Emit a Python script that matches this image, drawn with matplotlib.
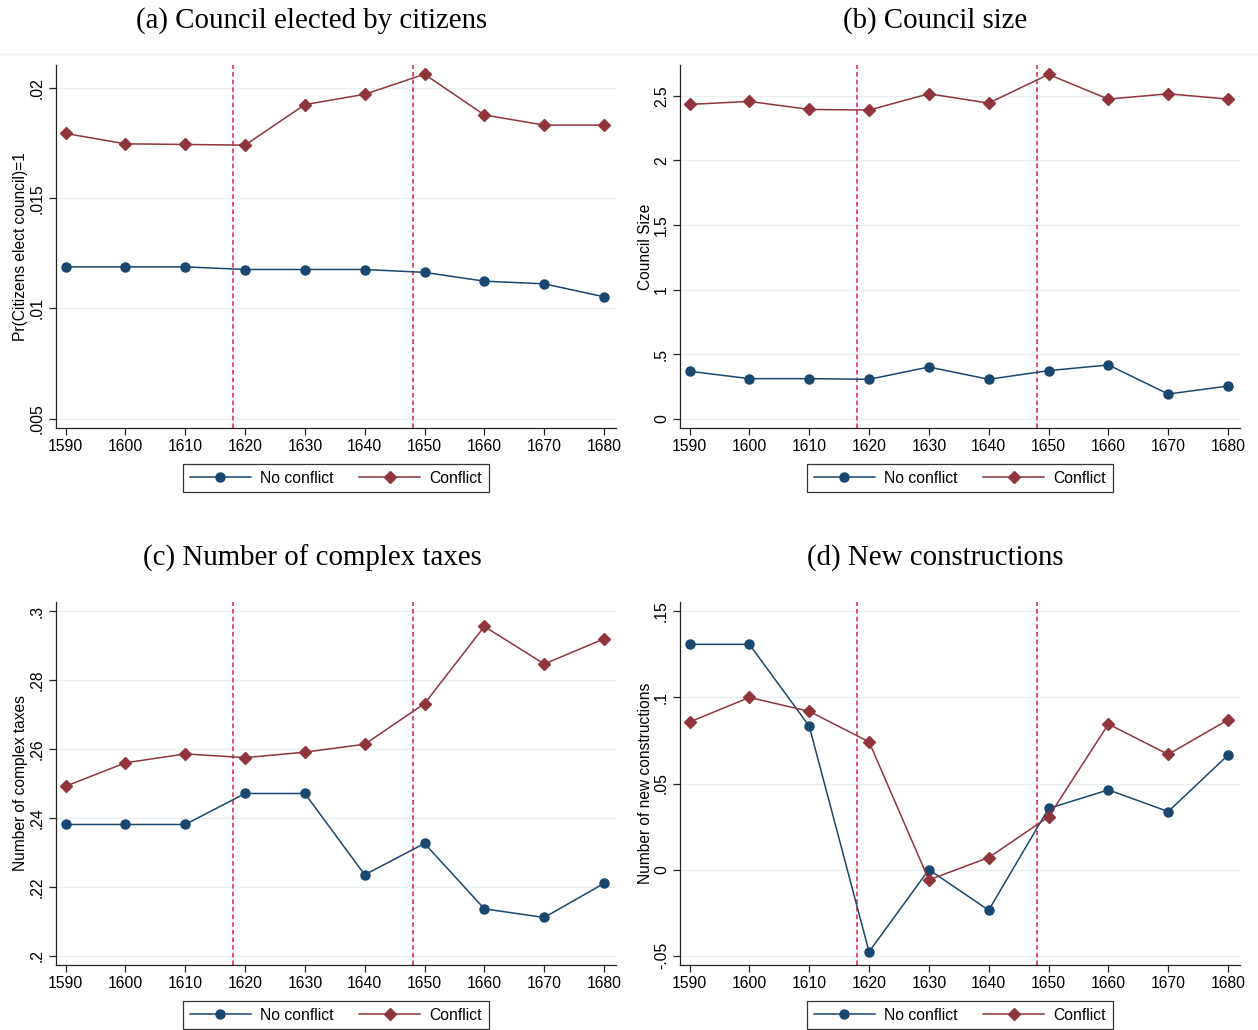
import numpy as np
import matplotlib.pyplot as plt
from matplotlib.lines import Line2D

years = [1590, 1600, 1610, 1620, 1630, 1640, 1650, 1660, 1670, 1680]
breaks = [1618, 1648]

# (a) council elected by citizens
elect_noconf = [0.01189, 0.01189, 0.01189, 0.01177, 0.01177, 0.01177, 0.01164, 0.01124, 0.01112, 0.01053]
elect_conf = [0.01795, 0.01748, 0.01745, 0.01742, 0.01926, 0.01973, 0.02064, 0.01879, 0.01833, 0.01833]
# (b) council size
size_noconf = [0.367, 0.310, 0.310, 0.305, 0.400, 0.305, 0.372, 0.416, 0.191, 0.253]
size_conf = [2.433, 2.456, 2.394, 2.389, 2.515, 2.443, 2.665, 2.474, 2.515, 2.474]
# (c) complex taxes
tax_noconf = [0.2381, 0.2381, 0.2381, 0.2471, 0.2471, 0.2235, 0.2326, 0.2136, 0.2111, 0.2210]
tax_conf = [0.2492, 0.2560, 0.2586, 0.2575, 0.2591, 0.2614, 0.2732, 0.2956, 0.2847, 0.2920]
# (d) new constructions
cons_noconf = [0.1308, 0.1308, 0.0833, -0.0477, 0.0, -0.0236, 0.0355, 0.0463, 0.0337, 0.0665]
cons_conf = [0.0857, 0.1000, 0.0919, 0.0742, -0.0060, 0.0070, 0.0306, 0.0845, 0.0669, 0.0870]

titles = ['(a) Council elected by citizens', '(b) Council size',
          '(c) Number of complex taxes', '(d) New constructions']
ylabels = ['Pr(Citizens elect council)=1', 'Council Size',
           'Number of complex taxes', 'Number of new constructions']
yticks = [[0.005, 0.01, 0.015, 0.02],
          [0, 0.5, 1, 1.5, 2, 2.5],
          [0.2, 0.22, 0.24, 0.26, 0.28, 0.3],
          [-0.05, 0, 0.05, 0.1, 0.15]]
yticklabels = [['.005', '.01', '.015', '.02'],
               ['0', '.5', '1', '1.5', '2', '2.5'],
               ['.2', '.22', '.24', '.26', '.28', '.3'],
               ['-.05', '0', '.05', '.1', '.15']]
ylims = [(0.00457, 0.02106), (-0.072, 2.738), (0.1973, 0.3027), (-0.0554, 0.1554)]
series = [(elect_noconf, elect_conf), (size_noconf, size_conf),
          (tax_noconf, tax_conf), (cons_noconf, cons_conf)]

navy = '#1a476f'
maroon = '#90353b'
vred = '#e0203c'

plt.rcParams['font.family'] = ['Liberation Sans', 'DejaVu Sans']

W, H = 1258, 1030
fig = plt.figure(figsize=(W / 100, H / 100), dpi=100)

# axes boxes in pixels: left, top, right, bottom
boxes = [(56, 65, 616, 428), (680, 65, 1240, 428),
         (56, 602, 616, 965), (680, 602, 1240, 965)]
# title centres in pixels
title_pos = [(312, 21), (935, 21), (312, 558), (935, 558)]

for i in range(4):
    l, t, r, b = boxes[i]
    ax = fig.add_axes([l / W, 1 - b / H, (r - l) / W, (b - t) / H])
    noconf, conf = series[i]
    ax.plot(years, noconf, color=navy, lw=1.1, marker='o', ms=6.5, label='No conflict', zorder=3)
    ax.plot(years, conf, color=maroon, lw=1.1, marker='D', ms=6, label='Conflict', zorder=3)
    for x in breaks:
        ax.axvline(x, color=vred, lw=1.1, ls=(0, (3, 2)), zorder=2)
    ax.set_xlim(1588.4, 1682)
    ax.set_ylim(*ylims[i])
    ax.set_xticks(years)
    ax.set_xticklabels([str(y) for y in years], fontsize=11.3)
    ax.set_yticks(yticks[i])
    ax.set_yticklabels(yticklabels[i], fontsize=11.3, rotation=90, va='center')
    ax.grid(axis='y', color='#e8eff0', lw=1.0, zorder=0)
    ax.spines['top'].set_visible(False)
    ax.spines['right'].set_visible(False)
    for s in ['left', 'bottom']:
        ax.spines[s].set_color('#222222')
        ax.spines[s].set_linewidth(0.9)
    ax.tick_params(length=5, width=0.9, color='#222222', pad=3)
    ax.set_ylabel(ylabels[i], fontsize=11.2, labelpad=1)
    tx, ty = title_pos[i]
    fig.text(tx / W, 1 - ty / H, titles[i], fontsize=20.8, family='Liberation Serif',
             ha='center', va='center')
    leg = ax.legend(loc='center', bbox_to_anchor=(0.5, -0.138), ncol=2, fontsize=11.3,
                    frameon=True, fancybox=False, edgecolor='black', handlelength=3.9,
                    columnspacing=1.6, borderpad=0.42, handletextpad=0.6)
    leg.get_frame().set_linewidth(0.9)

# faint rule below the top titles
fig.add_artist(Line2D([0, 1], [1 - 54 / H, 1 - 54 / H], color='#eef2f3', lw=1))

fig.savefig('out.png', dpi=100, facecolor='white')
